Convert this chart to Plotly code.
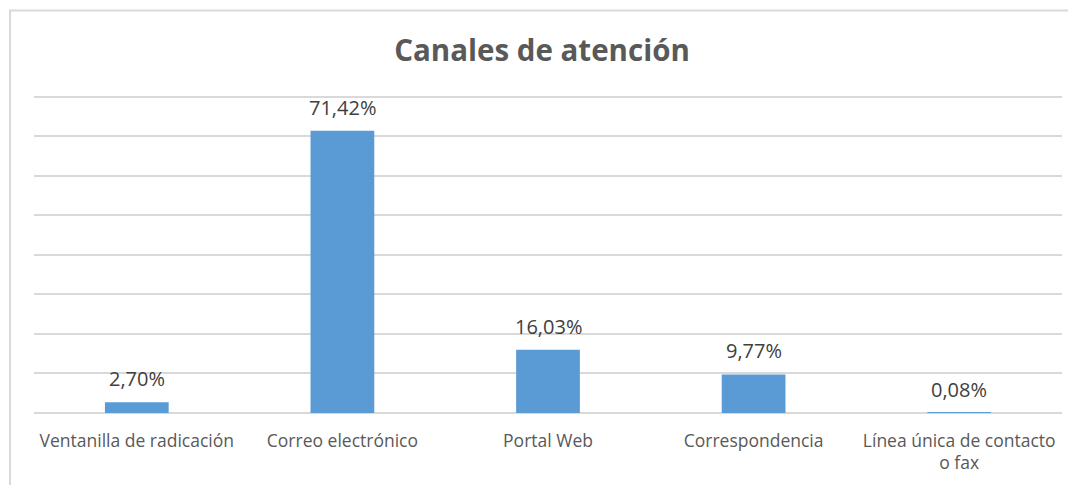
import plotly.graph_objects as go

categorias = ["Ventanilla de radicación", "Correo electrónico", "Portal Web",
              "Correspondencia", "Línea única de contacto<br>o fax"]
porcentajes = [2.70, 71.42, 16.03, 9.77, 0.08]
etiquetas = ["2,70%", "71,42%", "16,03%", "9,77%", "0,08%"]

GRIS = "#595959"
FUENTE = "Open Sans"

fig = go.Figure()

fig.add_trace(go.Bar(
    x=categorias,
    y=porcentajes,
    marker=dict(color="#5b9bd5", line=dict(width=0)),
    width=0.31,
    hoverinfo="skip",
))

# Etiquetas de datos sobre cada barra
for cat, val, txt in zip(categorias, porcentajes, etiquetas):
    fig.add_annotation(
        x=cat, y=val, text=txt,
        showarrow=False, yanchor="bottom", yshift=8,
        font=dict(family=FUENTE, size=20, color="#404040"),
    )

# Marco del área del gráfico
fig.add_shape(
    type="rect", xref="paper", yref="paper",
    x0=-0.0233, x1=1.05, y0=-0.3, y1=1.258,
    line=dict(color="#d9d9d9", width=2), layer="below",
)

# la página tiene 8px de margen en el body, así que la figura es 8px más chica
fig.update_layout(
    width=1068, height=477,
    margin=dict(l=26, r=14, t=85, b=72),
    paper_bgcolor="white", plot_bgcolor="white",
    title=dict(text="<b>Canales de atención</b>", x=0.5, xanchor="center",
               y=0.91, yanchor="middle",
               font=dict(family=FUENTE, size=29.5, color=GRIS)),
    showlegend=False,
    xaxis=dict(
        tickfont=dict(family=FUENTE, size=17.5, color=GRIS),
        showgrid=False, showline=False, ticks="",
        ticklabelstandoff=15,
    ),
    yaxis=dict(
        range=[0, 81], dtick=10, showticklabels=False,
        gridcolor="#d9d9d9", gridwidth=1.5,
        zeroline=True, zerolinecolor="#d9d9d9", zerolinewidth=1.5,
        fixedrange=True,
    ),
)

fig.write_html("out.html")
